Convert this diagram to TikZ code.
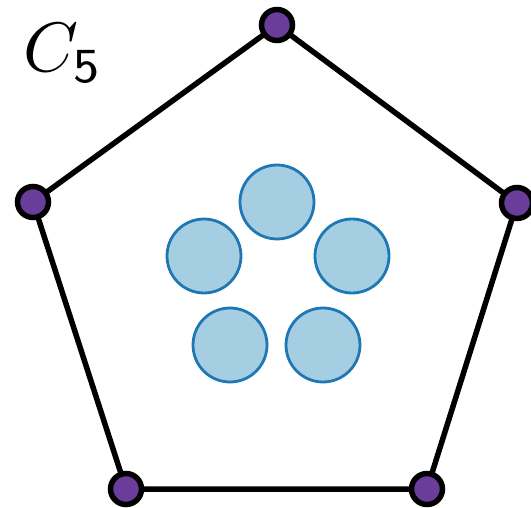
\documentclass[tikz,border=0pt]{standalone}
\usepackage{amsmath}
\usepackage{graphicx}
\usepackage{tikz}
\usetikzlibrary{calc}
\definecolor{dotpurple}{RGB}{106,61,154}
\definecolor{discfill}{RGB}{166,206,227}
\definecolor{discedge}{RGB}{31,120,180}

\begin{document}
\begin{tikzpicture}[x=1pt, y=-1pt]
  \tikzset{
    vdot/.style={circle, draw=black, line width=5.5pt, fill=dotpurple,
      minimum size=31pt, inner sep=0pt},
    disc/.style={circle, draw=discedge, line width=2.8pt, fill=discfill,
      minimum size=74pt, inner sep=0pt},
    edge/.style={line width=5.5pt, draw=black}
  }
  \useasboundingbox (0,0) rectangle (531,508);
  % cycle vertices, clockwise from the top
  \coordinate (v1) at (277,25);
  \coordinate (v2) at (517,203);
  \coordinate (v3) at (427,489);
  \coordinate (v4) at (126,489);
  \coordinate (v5) at (33,202);
  \draw[edge] (v1) -- (v2) -- (v3) -- (v4) -- (v5) -- cycle;
  \foreach \v in {v1,v2,v3,v4,v5}{
    \node[vdot] (d\v) at (\v) {};
  }
  % discs inside
  \node[disc] (c1) at (277,202) {};
  \node[disc] (c2) at (352,256) {};
  \node[disc] (c3) at (323,345) {};
  \node[disc] (c4) at (230,345) {};
  \node[disc] (c5) at (204,256) {};
  \node[inner sep=0pt] (lbl) at (63,53) {\scalebox{7}{$C_{\mathsf{5}}$}};
\end{tikzpicture}
\end{document}
